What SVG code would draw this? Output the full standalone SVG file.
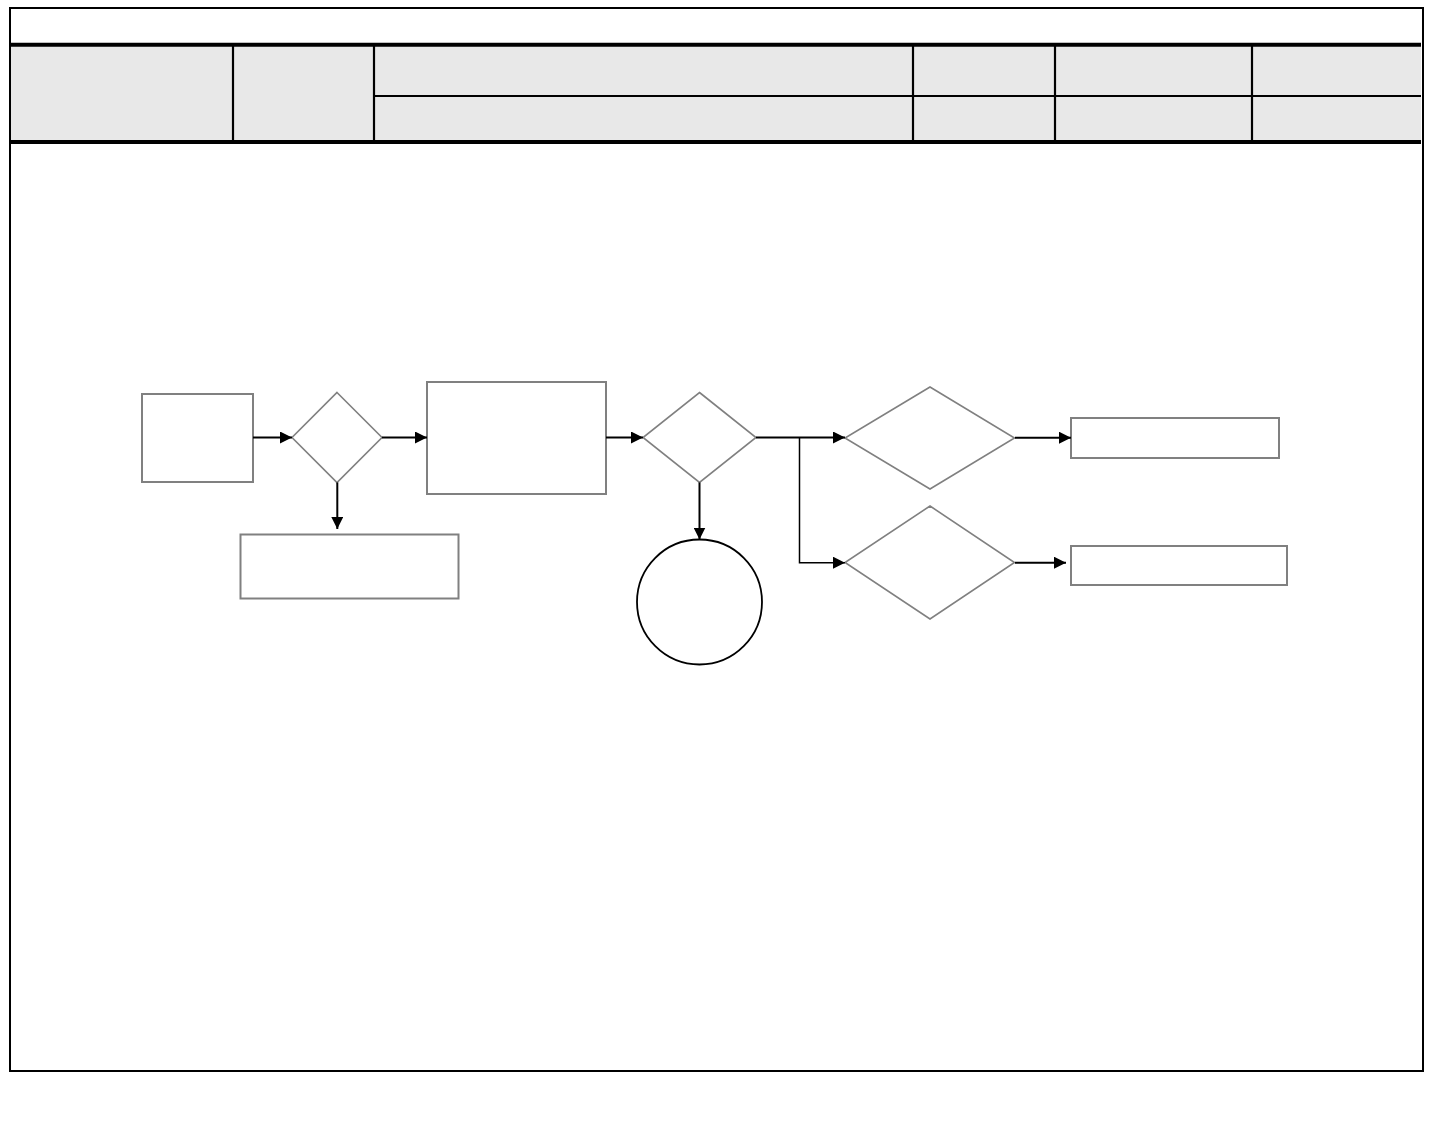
<svg xmlns="http://www.w3.org/2000/svg" width="1440" height="1137" viewBox="0 0 1440 1137">
<style>
.frame{fill:none;stroke:#000;stroke-width:2}
.thick{stroke:#000;stroke-width:4}
.div{stroke:#000;stroke-width:2.2}
.node{fill:#fff;stroke:#808080;stroke-width:2}
.dia{fill:#fff;stroke:#808080;stroke-width:1.6}
.circ{fill:#fff;stroke:#000;stroke-width:1.8}
.conn{fill:none;stroke:#000;stroke-width:2}
.conn-thin{fill:none;stroke:#000;stroke-width:1.5}
</style>
<defs>
<marker id="arr" markerUnits="userSpaceOnUse" markerWidth="12" markerHeight="12" refX="12" refY="6" orient="auto">
<path d="M0,0 L12,6 L0,12 Z" fill="#000"/>
</marker>
</defs>
<rect width="1440" height="1137" fill="#fff"/>
<g id="header">
<rect x="11" y="46" width="1410" height="95" fill="#e8e8e8"/>
<line class="thick" x1="10" y1="44.7" x2="1421" y2="44.7"/>
<line class="thick" x1="10" y1="142" x2="1421" y2="142"/>
<line class="div" x1="374" y1="96" x2="1421" y2="96"/>
<line class="div" x1="233" y1="46" x2="233" y2="141"/>
<line class="div" x1="374" y1="46" x2="374" y2="141"/>
<line class="div" x1="913" y1="46" x2="913" y2="141"/>
<line class="div" x1="1055" y1="46" x2="1055" y2="141"/>
<line class="div" x1="1252" y1="46" x2="1252" y2="141"/>
</g>
<rect class="frame" x="10" y="8" width="1413" height="1063"/>
<g id="n1"><rect class="node" x="142" y="394" width="111" height="88"/></g>
<g id="n2"><polygon class="dia" points="337,392.5 382,437.5 337,482.5 292,437.5"/></g>
<g id="n3"><rect class="node" x="427" y="382" width="179" height="112"/></g>
<g id="n4"><rect class="node" x="240.5" y="534.5" width="218" height="64"/></g>
<g id="n5"><polygon class="dia" points="699.5,392.5 756,437.5 699.5,482.5 643,437.5"/></g>
<g id="n6"><circle class="circ" cx="699.5" cy="602" r="62.5"/></g>
<g id="n7"><polygon class="dia" points="930,387 1014.5,438 930,489 845,438"/></g>
<g id="n8"><polygon class="dia" points="930,506 1014.5,562.5 930,619 845,562.5"/></g>
<g id="n9"><rect class="node" x="1071" y="418" width="208" height="40"/></g>
<g id="n10"><rect class="node" x="1071" y="546" width="216" height="39"/></g>
<g id="connectors">
<line class="conn" x1="253" y1="437.5" x2="292" y2="437.5" marker-end="url(#arr)"/>
<line class="conn" x1="382" y1="437.5" x2="427" y2="437.5" marker-end="url(#arr)"/>
<line class="conn" x1="337.3" y1="482.5" x2="337.3" y2="529" marker-end="url(#arr)"/>
<line class="conn" x1="606" y1="437.5" x2="643" y2="437.5" marker-end="url(#arr)"/>
<line class="conn" x1="699.5" y1="482.5" x2="699.5" y2="539.5" marker-end="url(#arr)"/>
<line class="conn" x1="756" y1="437.5" x2="845" y2="437.5" marker-end="url(#arr)"/>
<polyline class="conn-thin" points="799.5,437.5 799.5,562.7 845,562.7" marker-end="url(#arr)"/>
<line class="conn" x1="1015" y1="437.7" x2="1071" y2="437.7" marker-end="url(#arr)"/>
<line class="conn" x1="1015" y1="562.7" x2="1066" y2="562.7" marker-end="url(#arr)"/>
</g>
</svg>
